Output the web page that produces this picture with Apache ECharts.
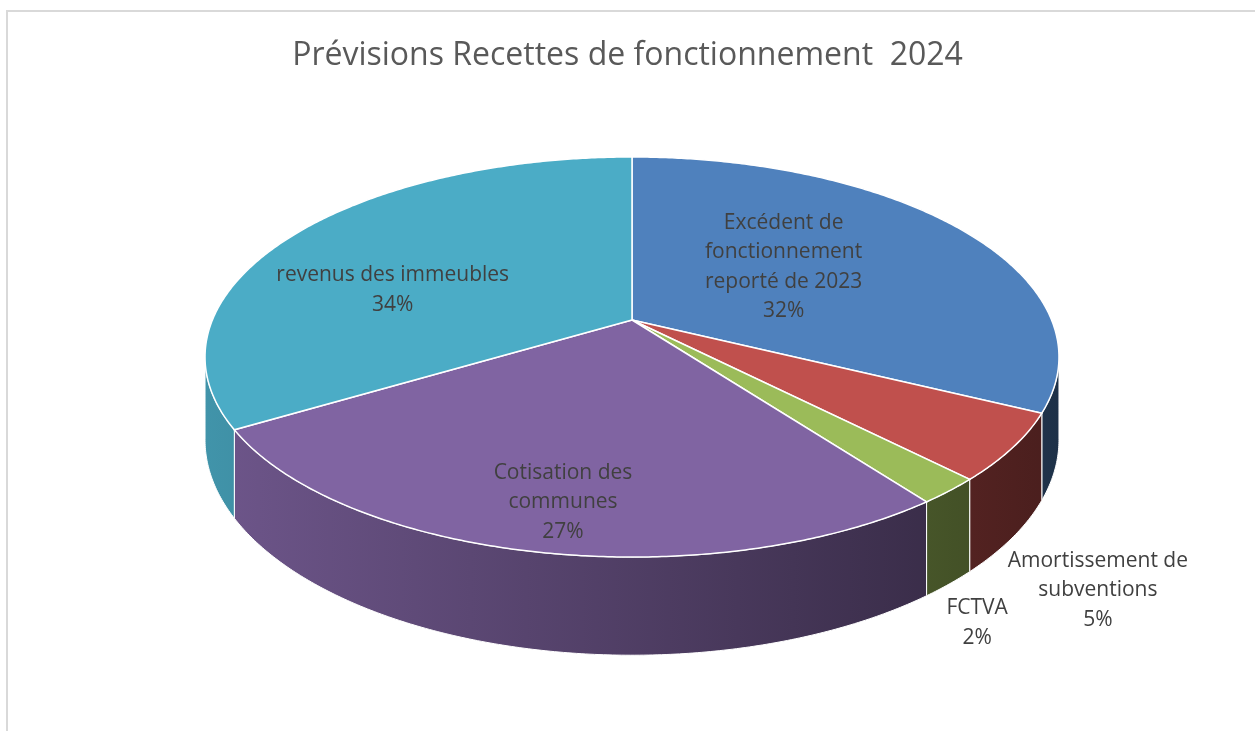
<!DOCTYPE html>
<html>
<head>
<meta charset="utf-8">
<script src="https://cdn.jsdelivr.net/npm/echarts@6/dist/echarts.min.js"></script>
<style>
html, body { margin: 0; padding: 0; background: #fff; }
#main { width: 1255px; height: 731px; }
</style>
</head>
<body>
<div id="main"></div>
<script>
// données
const categories = ['Excédent de\nfonctionnement\nreporté de 2023', 'Amortissement de\nsubventions', 'FCTVA', 'Cotisation des\ncommunes', 'revenus des immeubles'];
const values = [32.3, 5.4, 2.1, 26.6, 33.6];
const colors = ['#4F81BD', '#C0504D', '#9BBB59', '#8064A2', '#4BACC6'];

// géométrie du camembert 3D (perspective simple)
const CX = 632, CY = 320, A = 419.6, B = 193.2, K = 0.185, H = 80;
const VIS0 = Math.acos(-K) * 180 / Math.PI, VIS1 = 360 - VIS0;
// position des étiquettes : rayon, base (0 = dessus, 1 = dessous), décalage
const labelSpots = [
    { r: 0.45, dz: 0, dx: -2, dy: -9 },
    { r: 1, dz: 1, dx: 85, dy: 53 },
    { r: 1, dz: 1, dx: 28, dy: 39 },
    { r: 0.8, dz: 0, dx: 7, dy: 5 },
    { r: 0.62, dz: 0, dx: -25, dy: 26 }
];

const total = values.reduce((s, v) => s + v, 0);
const starts = [];
values.reduce((acc, v, i) => { starts[i] = acc; return acc + v / total * 360; }, 0);

function proj(u, v, dz) {
    const s = 1 / (1 - K * v);
    return [CX + A * u * s, CY + (B * v + dz) * s];
}
function pointAt(deg, r, dz) {
    const t = deg * Math.PI / 180;
    return proj(r * Math.sin(t), -r * Math.cos(t), dz);
}
function arc(a0, a1, dz) {
    const pts = [];
    const n = Math.max(2, Math.ceil((a1 - a0) / 0.5));
    for (let k = 0; k <= n; k++) pts.push(pointAt(a0 + (a1 - a0) * k / n, 1, dz));
    return pts;
}
function shade(hex, f) {
    const n = parseInt(hex.slice(1), 16);
    const r = Math.round(((n >> 16) & 255) * f), g = Math.round(((n >> 8) & 255) * f), b = Math.round((n & 255) * f);
    return 'rgb(' + r + ',' + g + ',' + b + ')';
}
function sideFill(c) {
    return {
        type: 'linear', x: CX - A * 1.02, y: 0, x2: CX + A * 1.02, y2: 0, global: true,
        colorStops: [{ offset: 0, color: shade(c, 0.86) }, { offset: 1, color: shade(c, 0.38) }]
    };
}

function renderItem(params, api) {
    const i = params.dataIndex;
    const a0 = starts[i], a1 = a0 + api.value(0) / total * 360;
    const children = [];
    const s0 = Math.max(a0, VIS0), s1 = Math.min(a1, VIS1);
    if (s1 > s0) {
        const pts = arc(s0, s1, 0).concat(arc(s0, s1, H).reverse());
        children.push({
            type: 'polygon', z2: 1, shape: { points: pts },
            style: { fill: sideFill(colors[i]), stroke: '#fff', lineWidth: 1 }
        });
    }
    const top = [proj(0, 0, 0)].concat(arc(a0, a1, 0));
    children.push({
        type: 'polygon', z2: 5, shape: { points: top },
        style: { fill: colors[i], stroke: '#fff', lineWidth: 1.5 }
    });
    const sp = labelSpots[i];
    const p = pointAt((a0 + a1) / 2, sp.r, sp.dz * H);
    const pct = Math.round(values[i] / total * 100) + '%';
    children.push({
        type: 'text', z2: 10,
        style: {
            text: categories[i] + '\n' + pct,
            x: p[0] + sp.dx, y: p[1] + sp.dy,
            align: 'center', verticalAlign: 'middle',
            fontFamily: 'Open Sans', fontSize: 21, lineHeight: 29.5, fill: '#404040'
        }
    });
    return { type: 'group', children: children };
}

function chart() {
    let myChart = echarts.init(document.querySelector('#main'));
    let option = {
        backgroundColor: '#fff',
        animation: false,
        title: {
            text: 'Prévisions Recettes de fonctionnement  2024',
            left: 'center',
            top: 35,
            textStyle: { fontFamily: 'Open Sans', fontSize: 32, fontWeight: 'normal', color: '#595959' }
        },
        graphic: [{
            type: 'rect', silent: true,
            shape: { x: 7, y: 11, width: 1300, height: 800 },
            style: { fill: 'none', stroke: '#d9d9d9', lineWidth: 2 }
        }],
        series: [{
            type: 'custom',
            coordinateSystem: 'none',
            silent: true,
            renderItem: renderItem,
            data: values
        }]
    };
    myChart.setOption(option);
}
chart();
</script>
</body>
</html>
